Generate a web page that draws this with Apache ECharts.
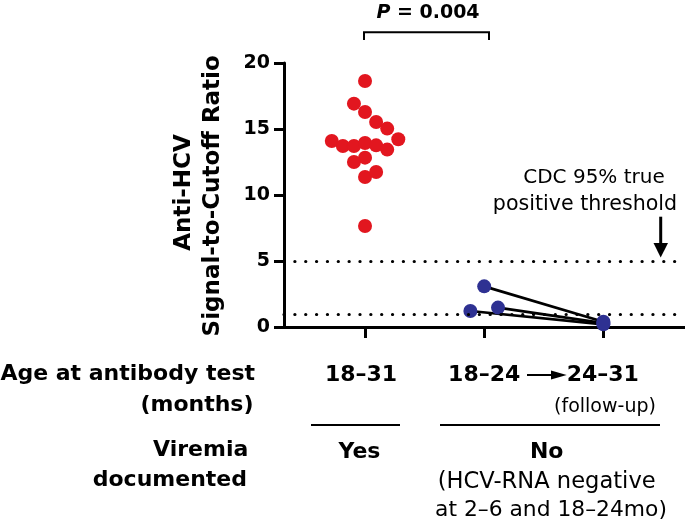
<!DOCTYPE html>
<html><head><meta charset="utf-8">
<script src="https://cdn.jsdelivr.net/npm/echarts@6/dist/echarts.min.js"></script>
<style>html,body{margin:0;padding:0;background:#fff}#c{width:685px;height:532px}</style>
</head><body><div id="c"></div>
<script>
// ---- data ----
const groupPositions = [1, 2, 3];          // 18–31 (viremic), 18–24 (non-viremic), 24–31 follow-up
const yTicks = [0, 5, 10, 15, 20];
const redValues  = [18.64, 16.92, 16.29, 15.53, 15.03, 14.22, 14.09, 13.71, 13.71, 13.94, 13.76, 13.44, 12.83, 12.50, 11.36, 11.74, 7.65];
const redColumns = [0, -1, 0, 1, 2, 3, -3, -2, -1, 0, 1, 2, 0, -1, 0, 1, 0];
const blueBaseline = [3.08, 1.21, 1.47];
const blueColumns  = [0, -1, 1];
const blueFollowUp = [0.40, 0.20, 0.30];
const thresholds = [5, 1];

// ---- styles ----
const FONT = '"DejaVu Sans", sans-serif';
const RED = '#e2161f', BLUE = '#2e3192';
const RED_STEP = 0.093, BLUE_STEP = 0.116;

const chart = echarts.init(document.getElementById('c'), null, {renderer: 'canvas'});

const redData = redValues.map((v, i) => [groupPositions[0] + redColumns[i] * RED_STEP, v]);
const blueStart = blueBaseline.map((v, i) => [groupPositions[1] + blueColumns[i] * BLUE_STEP, v]);
const blueEnd = blueFollowUp.map(v => [groupPositions[2], v]);

const lineSeries = blueStart.map((p, i) => ({
  type: 'line', data: [p, blueEnd[i]], symbol: 'none', z: 2, silent: true,
  lineStyle: {color: '#000', width: 2.7}
}));

function txt(text, x, y, size, opts) {
  opts = opts || {};
  return {
    type: 'text', x: x, y: y, rotation: opts.rotation || 0, silent: true,
    style: {
      text: text, fill: '#000',
      font: (opts.bold === false ? '' : 'bold ') + size + 'px ' + FONT,
      textAlign: opts.align || 'center', textVerticalAlign: 'middle',
      align: opts.align || 'center', verticalAlign: 'middle'
    }
  };
}
function seg(points, w) {
  return {type: 'polyline', silent: true, shape: {points: points}, style: {stroke: '#000', lineWidth: w, fill: null}};
}
function tri(points) {
  return {type: 'polygon', silent: true, shape: {points: points}, style: {fill: '#000'}};
}

const graphics = [
  // P value + bracket
  {
    type: 'text', x: 428, y: 13.4, silent: true,
    style: {
      text: '{i|P}{b| = 0.004}', textAlign: 'center', textVerticalAlign: 'middle', align: 'center', verticalAlign: 'middle',
      rich: {
        i: {fontStyle: 'italic', fontWeight: 'bold', fontSize: 19, fontFamily: FONT, fill: '#000'},
        b: {fontWeight: 'bold', fontSize: 19, fontFamily: FONT, fill: '#000'}
      }
    }
  },
  seg([[364, 40], [364, 32.3], [489, 32.3], [489, 40]], 2),
  // y axis title
  txt('Anti-HCV', 183.7, 192.5, 23, {rotation: Math.PI / 2}),
  txt('Signal-to-Cutoff Ratio', 213, 195.8, 23, {rotation: Math.PI / 2}),
  // CDC annotation
  txt('CDC 95% true', 594, 178.1, 20, {bold: false}),
  txt('positive threshold', 585, 204.6, 20.6, {bold: false}),
  seg([[660.7, 216.7], [660.7, 245]], 3),
  tri([[653.5, 243], [668, 243], [660.7, 257.5]]),
  // bottom table
  txt('Age at antibody test', 255, 374.1, 22, {align: 'right'}),
  txt('(months)', 253.5, 405.7, 22, {align: 'right'}),
  txt('Viremia', 248.3, 450.7, 22, {align: 'right'}),
  txt('documented', 247, 480.4, 22, {align: 'right'}),
  txt('18–31', 361, 375.7, 22),
  txt('18–24', 484.2, 375.7, 22),
  seg([[527, 375], [555, 375]], 2),
  tri([[551, 370.5], [566.7, 375], [551, 379.5]]),
  txt('24–31', 602.8, 375.7, 22),
  txt('(follow-up)', 605, 407, 19, {bold: false}),
  seg([[311, 425], [400, 425]], 2),
  seg([[440, 425], [660, 425]], 2),
  txt('Yes', 359.5, 452.4, 22),
  txt('No', 546.7, 452.4, 22),
  txt('(HCV-RNA negative', 546.7, 482.4, 22.6, {bold: false}),
  txt('at 2–6 and 18–24mo)', 551, 510.7, 21.8, {bold: false})
];

chart.setOption({
  animation: false,
  backgroundColor: '#fff',
  grid: {left: 284, right: 0, top: 63, bottom: 205, containLabel: false},
  xAxis: {
    type: 'value', min: 0.32, max: 3.685,
    axisLine: {show: true, onZero: false, lineStyle: {color: '#000', width: 3}},
    axisTick: {show: true, customValues: groupPositions, length: 11, lineStyle: {color: '#000', width: 3}},
    axisLabel: {show: false},
    splitLine: {show: false}
  },
  yAxis: {
    type: 'value', min: yTicks[0], max: yTicks[yTicks.length - 1], interval: yTicks[1] - yTicks[0],
    axisLine: {show: true, lineStyle: {color: '#000', width: 3}},
    axisTick: {show: true, length: 10, lineStyle: {color: '#000', width: 3}},
    axisLabel: {color: '#000', fontFamily: FONT, fontWeight: 'bold', fontSize: 19, margin: 14},
    splitLine: {show: false}
  },
  series: lineSeries.concat([
    {
      type: 'scatter', data: blueStart.concat(blueEnd), symbolSize: 14, z: 3, silent: true,
      itemStyle: {color: BLUE, opacity: 1}
    },
    {
      type: 'scatter', data: redData, symbolSize: 14, z: 4, silent: true,
      itemStyle: {color: RED, opacity: 1},
      markLine: {
        silent: true, symbol: ['none', 'none'], label: {show: false},
        lineStyle: {color: '#000', width: 3.2, type: [0.1, 10.75], cap: 'round'},
        emphasis: {disabled: true},
        data: thresholds.map(v => ({yAxis: v}))
      }
    }
  ]),
  graphic: graphics
});
</script></body></html>
